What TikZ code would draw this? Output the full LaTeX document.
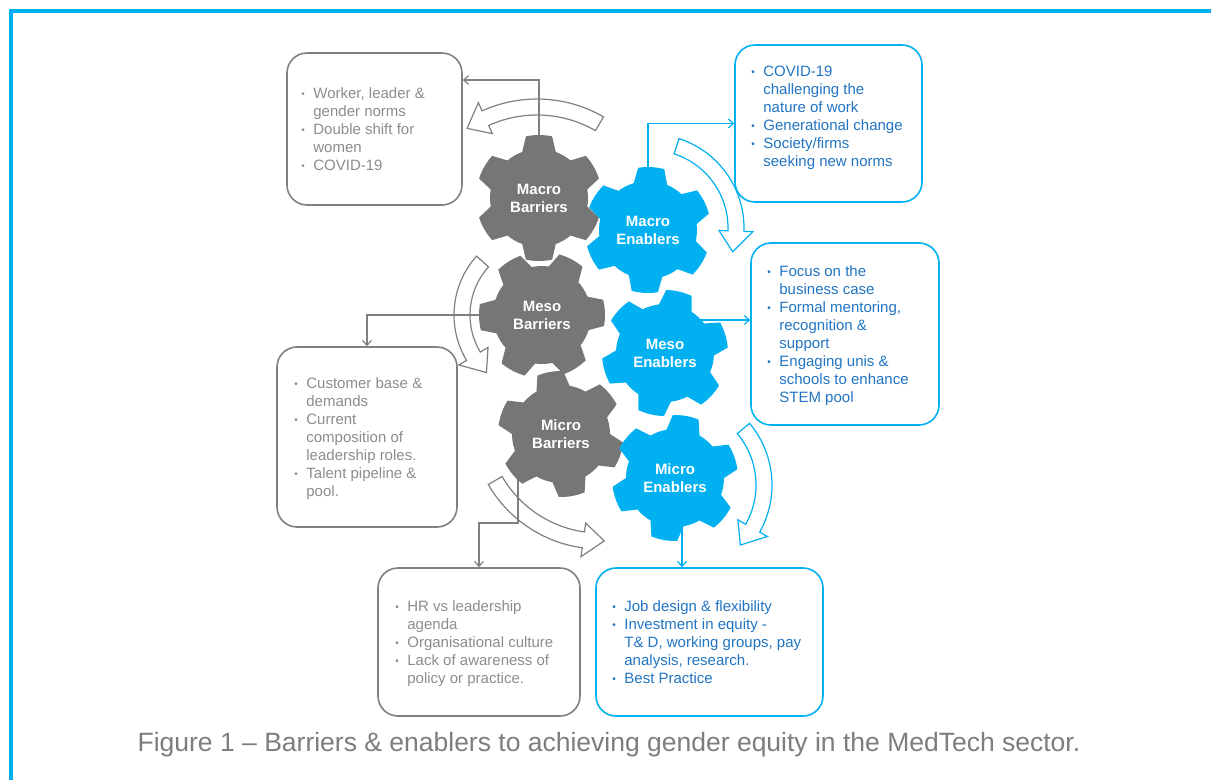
\documentclass[tikz,border=0pt]{standalone}
\usepackage{fontspec}
\setmainfont{Liberation Sans}
\usetikzlibrary{arrows.meta}

\definecolor{cyanline}{RGB}{0,176,240}
\definecolor{coggray}{RGB}{118,118,118}
\definecolor{boxgray}{RGB}{128,128,128}
\definecolor{txtgray}{RGB}{140,140,140}
\definecolor{txtblue}{RGB}{32,116,194}
\definecolor{capgray}{RGB}{125,125,125}

\pgfdeclarelayer{back}
\pgfsetlayers{back,main}

% small bullet for the lists
\newcommand{\blt}{\makebox[12pt][l]{\raisebox{1pt}{\fontsize{10}{10}\selectfont\textbullet}}}

% six teeth cog around the origin, turned by #1
\newcommand{\cog}[1]{%
  (#1-60+20:49)
  \foreach \t [evaluate=\t as \a using #1+(\t-1)*60] in {1,...,6}{
    arc[start angle=\a-60+20, end angle=\a-20, radius=49]
    -- (\a-12:63) arc[start angle=\a-12, end angle=\a+12, radius=63]
    -- (\a+20:49)
  } -- cycle}

% curved block arrow: style, centre, radius, tail angle, tip angle
\newcommand{\bendarrow}[5]{%
  \pgfmathsetmacro{\hk}{#5+ifthenelse(#5>#4,-1,1)*1200/#3}%
  \draw[#1, shift={#2}] (#4:#3+8) arc[start angle=#4, end angle=\hk, radius=#3+8]
    -- (\hk:#3+17) -- (#5:#3) -- (\hk:#3-17) -- (\hk:#3-8)
    arc[start angle=\hk, end angle=#4, radius=#3-8] -- cycle;}

\begin{document}
\begin{tikzpicture}[x=1pt, y=1pt,
    frame/.style={draw=cyanline, line width=3.5pt},
    barbox/.style={draw=boxgray, line width=1.6pt, rounded corners=20pt},
    enbox/.style={draw=cyanline, line width=1.6pt, rounded corners=20pt},
    bartext/.style={anchor=west, inner sep=0pt, text=txtgray, font=\fontsize{15}{18}\selectfont},
    entext/.style={bartext, text=txtblue},
    coglabel/.style={circle, minimum size=120pt, inner sep=0pt, align=center, text=white, font=\bfseries\fontsize{15}{18}\selectfont},
    barline/.style={draw=boxgray, line width=1.2pt, -{Straight Barb[length=5pt, width=9pt]}},
    enline/.style={barline, draw=cyanline},
    barband/.style={draw=boxgray, line width=1.2pt, fill=white},
    enband/.style={barband, draw=cyanline}]

  \useasboundingbox (0,0) rectangle (1211,-780);
  \draw[frame] (11,-780) |- (1211,-11);

  % barrier boxes
  \node[barbox, minimum width=175pt, minimum height=152pt] (macrobox) at (374.5,-129) {};
  \node[bartext] at ([xshift=15pt, yshift=-2pt]macrobox.west) {\begin{tabular}{@{}l@{}l@{}}
    \blt & Worker, leader \& \\ & gender norms \\
    \blt & Double shift for \\ & women \\
    \blt & COVID-19
  \end{tabular}};

  \node[barbox, minimum width=180pt, minimum height=180pt] (mesobox) at (367,-437) {};
  \node[bartext] at ([xshift=18pt, yshift=-2pt]mesobox.west) {\begin{tabular}{@{}l@{}l@{}}
    \blt & Customer base \& \\ & demands \\
    \blt & Current \\ & composition of \\ & leadership roles. \\
    \blt & Talent pipeline \& \\ & pool.
  \end{tabular}};

  \node[barbox, minimum width=202pt, minimum height=148pt] (microbox) at (479,-642) {};
  \node[bartext] at ([xshift=18pt, yshift=-2pt]microbox.west) {\begin{tabular}{@{}l@{}l@{}}
    \blt & HR vs leadership \\ & agenda \\
    \blt & Organisational culture \\
    \blt & Lack of awareness of \\ & policy or practice.
  \end{tabular}};

  % enabler boxes
  \node[enbox, minimum width=187pt, minimum height=157pt] (macroenbox) at (828.5,-123.5) {};
  \node[entext] at ([xshift=17pt, yshift=6pt]macroenbox.west) {\begin{tabular}{@{}l@{}l@{}}
    \blt & COVID-19 \\ & challenging the \\ & nature of work \\
    \blt & Generational change \\
    \blt & Society/firms \\ & seeking new norms
  \end{tabular}};

  \node[enbox, minimum width=188pt, minimum height=182pt] (mesoenbox) at (845,-334) {};
  \node[entext] at ([xshift=17pt, yshift=-2pt]mesoenbox.west) {\begin{tabular}{@{}l@{}l@{}}
    \blt & Focus on the \\ & business case \\
    \blt & Formal mentoring, \\ & recognition \& \\ & support \\
    \blt & Engaging unis \& \\ & schools to enhance \\ & STEM pool
  \end{tabular}};

  \node[enbox, minimum width=227pt, minimum height=148pt] (microenbox) at (709.5,-642) {};
  \node[entext] at ([xshift=17pt, yshift=-2pt]microenbox.west) {\begin{tabular}{@{}l@{}l@{}}
    \blt & Job design \& flexibility \\
    \blt & Investment in equity - \\ & T\& D, working groups, pay \\ & analysis, research. \\
    \blt & Best Practice
  \end{tabular}};

  % cogs
  \fill[coggray, shift={(539,-198)}] \cog{90};
  \node[coglabel] (macrob) at (539,-198) {Macro\\Barriers};
  \fill[cyanline, shift={(648,-230)}] \cog{87};
  \node[coglabel] (macroe) at (648,-230) {Macro\\Enablers};
  \fill[coggray, shift={(542,-315)}] \cog{62};
  \node[coglabel] (mesob) at (542,-315) {Meso\\Barriers};
  \fill[cyanline, shift={(665,-353)}] \cog{77};
  \node[coglabel] (mesoe) at (665,-353) {Meso\\Enablers};
  \fill[coggray, shift={(561,-434)}] \cog{100};
  \node[coglabel] (microb) at (561,-434) {Micro\\Barriers};
  \fill[cyanline, shift={(675,-478)}] \cog{80};
  \node[coglabel] (microe) at (675,-478) {Micro\\Enablers};

  \begin{pgfonlayer}{back}
    % turning arrows
    \bendarrow{barband}{(537,-232)}{125}{60}{124}
    \bendarrow{barband}{(542,-315)}{80}{138}{226}
    \bendarrow{barband}{(600,-420)}{121}{210}{272}
    \bendarrow{enband}{(650,-228)}{86}{72}{-16}
    \bendarrow{enband}{(676,-485)}{88}{40}{-43}

    % links to the boxes
    \draw[barline] (macrob.center) |- ([yshift=49pt]macrobox.east);
    \draw[barline] (mesob.center) -| (mesobox);
    \draw[barline] ([xshift=-43pt]microb.center) -- ++(0,-89) -| (microbox);
    \draw[enline] (macroe.center) |- (macroenbox);
    \draw[enline] ([yshift=33pt]mesoe.center) -- (mesoenbox.west |- 0,-320);
    \draw[enline] ([xshift=7pt]microe.center) -- (microenbox.north -| 682,0);
  \end{pgfonlayer}

  \node[font=\fontsize{26.5}{32}\selectfont, text=capgray] (caption) at (609,-745)
    {Figure 1 – Barriers \& enablers to achieving gender equity in the MedTech sector.};
\end{tikzpicture}
\end{document}
